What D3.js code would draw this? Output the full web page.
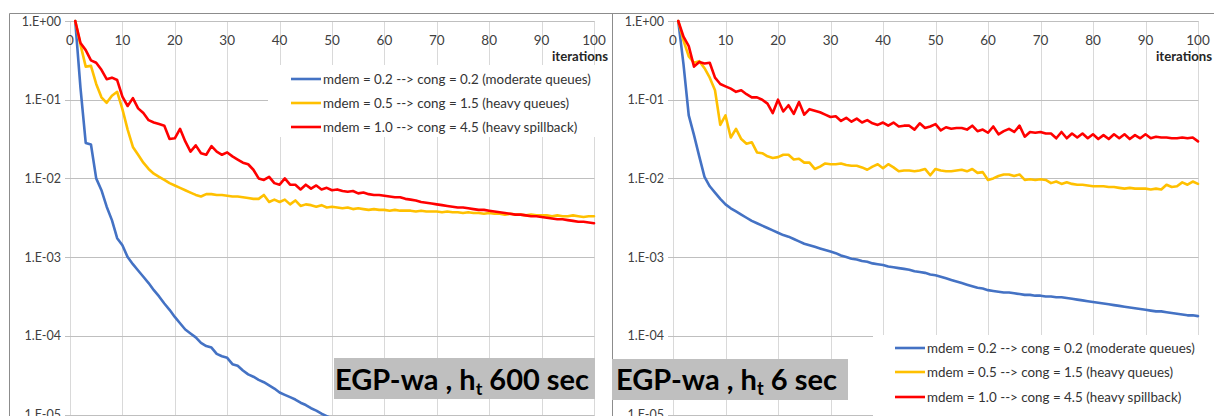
<!DOCTYPE html>
<html>
<head>
<meta charset="utf-8">
<script src="https://cdn.jsdelivr.net/npm/d3@7"></script>
<style>
  html, body { margin: 0; padding: 0; background: #fff; }
  svg { display: block; font-family: Lato, "Open Sans", "Liberation Sans", sans-serif; }
</style>
</head>
<body>
<svg id="chart" width="1214" height="416"></svg>
<script>
// ---- data -------------------------------------------------------------
// Relative gap per iteration, stored as log10 values (1.E-02 -> -2).
const iterations = d3.range(1, 101);
const xTickValues = [0, 10, 20, 30, 40, 50, 60, 70, 80, 90, 100];
const yTickValues = [1, 1e-1, 1e-2, 1e-3, 1e-4, 1e-5];
const yTickLabels = ["1.E+00", "1.E-01", "1.E-02", "1.E-03", "1.E-04", "1.E-05"];
const seriesNames = [
  "mdem = 0.2 --> cong = 0.2 (moderate queues)",
  "mdem = 0.5 --> cong = 1.5 (heavy queues)",
  "mdem = 1.0 --> cong = 4.5 (heavy spillback)"
];
const seriesColors = ["#4472C4", "#FFC000", "#FF0000"];

// h_t = 600 sec
const moderate600 = [0, -0.85, -1.55, -1.57, -2.0, -2.15, -2.36, -2.53, -2.76, -2.85,
  -3.00, -3.09, -3.17, -3.25, -3.33, -3.42, -3.50, -3.59, -3.67, -3.76,
  -3.84, -3.92, -3.97, -4.02, -4.09, -4.13, -4.15, -4.23, -4.26, -4.28,
  -4.36, -4.38, -4.44, -4.49, -4.52, -4.56, -4.59, -4.63, -4.67, -4.72,
  -4.75, -4.78, -4.81, -4.85, -4.88, -4.92, -4.95, -4.99, -5.02, -5.05];
const heavyQueues600 = [0, -0.30, -0.58, -0.57, -0.80, -0.97, -1.04, -0.95, -0.90, -1.12,
  -1.38, -1.60, -1.70, -1.80, -1.88, -1.94, -1.98, -2.02, -2.06, -2.09,
  -2.12, -2.15, -2.18, -2.21, -2.23, -2.20, -2.20, -2.21, -2.21, -2.22,
  -2.23, -2.23, -2.24, -2.25, -2.26, -2.26, -2.21, -2.30, -2.27, -2.30,
  -2.27, -2.33, -2.28, -2.35, -2.33, -2.34, -2.36, -2.34, -2.37, -2.36,
  -2.37, -2.38, -2.37, -2.39, -2.38, -2.39, -2.40, -2.39, -2.40, -2.40,
  -2.41, -2.40, -2.41, -2.41, -2.41, -2.42, -2.41, -2.42, -2.42, -2.42,
  -2.43, -2.42, -2.43, -2.43, -2.44, -2.43, -2.44, -2.44, -2.45, -2.44,
  -2.45, -2.45, -2.46, -2.45, -2.46, -2.46, -2.47, -2.46, -2.47, -2.47,
  -2.47, -2.48, -2.47, -2.48, -2.48, -2.47, -2.48, -2.49, -2.48, -2.48];
const spillback600 = [0, -0.28, -0.37, -0.50, -0.53, -0.62, -0.74, -0.72, -0.75, -0.96,
  -1.08, -0.98, -1.11, -1.17, -1.26, -1.29, -1.31, -1.33, -1.50, -1.49,
  -1.37, -1.53, -1.66, -1.58, -1.68, -1.70, -1.59, -1.66, -1.70, -1.67,
  -1.72, -1.76, -1.80, -1.82, -1.89, -2.00, -2.02, -1.98, -2.06, -2.08,
  -2.00, -2.08, -2.08, -2.14, -2.08, -2.13, -2.09, -2.14, -2.12, -2.15,
  -2.14, -2.16, -2.17, -2.16, -2.19, -2.18, -2.20, -2.21, -2.21, -2.22,
  -2.23, -2.24, -2.24, -2.26, -2.27, -2.28, -2.30, -2.31, -2.32, -2.33,
  -2.34, -2.35, -2.36, -2.37, -2.37, -2.38, -2.39, -2.40, -2.40, -2.41,
  -2.42, -2.43, -2.44, -2.45, -2.46, -2.46, -2.47, -2.48, -2.48, -2.49,
  -2.50, -2.51, -2.52, -2.52, -2.53, -2.54, -2.55, -2.55, -2.56, -2.57];

// h_t = 6 sec
const moderate6 = [0, -0.55, -1.20, -1.45, -1.72, -1.98, -2.10, -2.18, -2.26, -2.33,
  -2.38, -2.42, -2.46, -2.50, -2.54, -2.57, -2.60, -2.63, -2.66, -2.69,
  -2.72, -2.74, -2.77, -2.80, -2.83, -2.85, -2.87, -2.89, -2.91, -2.93,
  -2.95, -2.98, -3.00, -3.02, -3.03, -3.05, -3.06, -3.08, -3.09, -3.10,
  -3.12, -3.13, -3.14, -3.15, -3.16, -3.18, -3.19, -3.20, -3.22, -3.23,
  -3.25, -3.27, -3.29, -3.31, -3.33, -3.35, -3.37, -3.39, -3.40, -3.42,
  -3.43, -3.44, -3.45, -3.45, -3.46, -3.47, -3.48, -3.48, -3.49, -3.49,
  -3.50, -3.50, -3.51, -3.51, -3.52, -3.53, -3.54, -3.55, -3.56, -3.57,
  -3.58, -3.59, -3.60, -3.61, -3.62, -3.63, -3.64, -3.65, -3.66, -3.67,
  -3.68, -3.69, -3.69, -3.70, -3.71, -3.72, -3.73, -3.74, -3.74, -3.75];
const heavyQueues6 = [0, -0.25, -0.45, -0.53, -0.51, -0.60, -0.72, -0.88, -1.32, -1.20,
  -1.48, -1.37, -1.50, -1.56, -1.54, -1.67, -1.68, -1.72, -1.74, -1.73,
  -1.70, -1.70, -1.76, -1.75, -1.80, -1.80, -1.88, -1.85, -1.81, -1.82,
  -1.82, -1.81, -1.83, -1.84, -1.84, -1.86, -1.89, -1.85, -1.82, -1.87,
  -1.82, -1.86, -1.91, -1.90, -1.90, -1.91, -1.90, -1.88, -1.96, -1.88,
  -1.90, -1.91, -1.91, -1.90, -1.89, -1.91, -1.88, -1.93, -1.92, -2.02,
  -2.00, -1.97, -1.95, -1.95, -1.97, -1.95, -2.02, -2.01, -2.02, -2.01,
  -2.02, -2.06, -2.04, -2.07, -2.05, -2.07, -2.08, -2.08, -2.09, -2.10,
  -2.10, -2.10, -2.11, -2.11, -2.12, -2.13, -2.12, -2.13, -2.13, -2.13,
  -2.14, -2.13, -2.14, -2.08, -2.11, -2.10, -2.05, -2.08, -2.04, -2.07];
const spillback6 = [0, -0.20, -0.32, -0.58, -0.52, -0.54, -0.53, -0.72, -0.80, -0.83,
  -0.86, -0.90, -0.88, -0.93, -0.97, -0.97, -1.00, -1.05, -1.17, -1.00,
  -1.15, -1.07, -1.18, -1.03, -1.19, -1.12, -1.14, -1.16, -1.19, -1.22,
  -1.21, -1.27, -1.23, -1.28, -1.24, -1.29, -1.26, -1.30, -1.32, -1.29,
  -1.33, -1.29, -1.34, -1.33, -1.33, -1.38, -1.30, -1.36, -1.34, -1.31,
  -1.39, -1.35, -1.37, -1.36, -1.36, -1.38, -1.33, -1.40, -1.38, -1.42,
  -1.34, -1.44, -1.40, -1.37, -1.41, -1.33, -1.47, -1.41, -1.42, -1.41,
  -1.43, -1.43, -1.49, -1.41, -1.49, -1.43, -1.48, -1.43, -1.49, -1.44,
  -1.50, -1.45, -1.50, -1.44, -1.49, -1.44, -1.50, -1.45, -1.49, -1.44,
  -1.49, -1.47, -1.48, -1.48, -1.49, -1.49, -1.48, -1.49, -1.48, -1.53];

// ---- layout -----------------------------------------------------------
const svg = d3.select("#chart");
const W = 1214, H = 416;
const gridMajor = "#bfbfbf", gridMinor = "#d9d9d9", frame = "#8c8c8c";
const tickColor = "#404040";

const panels = [
  {
    left: 70, right: 594, series: [moderate600, heavyQueues600, spillback600],
    legend: { x0: 268, y0: 65, x1: 606, y1: 137, lineX: 291, rowY: [79, 103, 127] },
    title: { x0: 334, y0: 358, x1: 595, y1: 399, textX: 335, width: 254, main: " 600 sec" }
  },
  {
    left: 673, right: 1198, series: [moderate6, heavyQueues6, spillback6],
    legend: { x0: 873, y0: 335, x1: 1206, y1: 416, lineX: 895, rowY: [348, 372, 397] },
    title: { x0: 612, y0: 359, x1: 848, y1: 400, textX: 616, width: 221, main: " 6 sec" }
  }
];

// outer frames of the two chart objects
svg.append("path")
  .attr("d", `M9.5,${H} V13.5 H${W} M612.5,13.5 V${H}`)
  .attr("fill", "none").attr("stroke", frame).attr("stroke-width", 1);

const px = v => Math.round(v) + 0.5;

function fitFont(sel, target) {
  const n = sel.node();
  const w = n.getComputedTextLength();
  const fs = parseFloat(sel.attr("font-size"));
  sel.attr("font-size", (fs * target / w).toFixed(2));
}

panels.forEach(p => {
  const x = d3.scaleLinear().domain([0, 100]).range([p.left, p.right]);
  const y = d3.scaleLog().domain([1, 1e-5]).range([21, 414.5]);
  const g = svg.append("g");

  // vertical gridlines (including the value axis at 0)
  g.append("g").selectAll("line").data(xTickValues).join("line")
    .attr("x1", d => px(x(d))).attr("x2", d => px(x(d)))
    .attr("y1", y(1)).attr("y2", H)
    .attr("stroke", gridMinor).attr("stroke-width", 1);

  // horizontal decade gridlines with short ticks on the left
  g.append("g").selectAll("line").data(yTickValues).join("line")
    .attr("x1", p.left - 5).attr("x2", px(x(100)))
    .attr("y1", d => px(y(d))).attr("y2", d => px(y(d)))
    .attr("stroke", gridMajor).attr("stroke-width", 1);

  // category axis labels along the top
  g.append("g").selectAll("text").data(xTickValues).join("text")
    .attr("x", d => x(d)).attr("y", 45)
    .attr("text-anchor", "middle")
    .attr("font-size", 13.5).attr("fill", tickColor)
    .text(d => d);

  const itLabel = g.append("text")
    .attr("x", x(100) + 14).attr("y", 61)
    .attr("text-anchor", "end")
    .attr("font-size", 13).attr("font-weight", "bold").attr("fill", "#262626")
    .text("iterations");
  fitFont(itLabel, 56);

  // log value axis labels
  g.append("g").selectAll("text").data(yTickValues).join("text")
    .attr("x", p.left - 9).attr("y", d => y(d) + 4.5)
    .attr("text-anchor", "end")
    .attr("font-size", 12.5).attr("fill", tickColor)
    .text((d, i) => yTickLabels[i]);

  // legend panel hides the grid underneath it
  const L = p.legend;
  g.append("rect")
    .attr("x", L.x0).attr("y", L.y0)
    .attr("width", L.x1 - L.x0).attr("height", L.y1 - L.y0)
    .attr("fill", "#fff");

  // series lines
  const line = d3.line()
    .x((d, i) => x(iterations[i]))
    .y(d => y(Math.pow(10, d)));
  p.series.forEach((s, k) => {
    g.append("path")
      .datum(s)
      .attr("d", line)
      .attr("fill", "none")
      .attr("stroke", seriesColors[k])
      .attr("stroke-width", 2.6)
      .attr("stroke-linejoin", "round")
      .attr("stroke-linecap", "round");
  });

  // legend entries
  const rows = g.append("g").selectAll("g").data(seriesNames).join("g");
  rows.append("line")
    .attr("x1", L.lineX).attr("x2", L.lineX + 30)
    .attr("y1", (d, i) => L.rowY[i]).attr("y2", (d, i) => L.rowY[i])
    .attr("stroke", (d, i) => seriesColors[i]).attr("stroke-width", 2.6);
  const labels = rows.append("text")
    .attr("x", L.lineX + 32).attr("y", (d, i) => L.rowY[i] + 4.5)
    .attr("font-size", 13).attr("fill", "#333")
    .text(d => d);
  // size legend text so the longest entry spans its slot
  const first = d3.select(labels.nodes()[0]);
  fitFont(first, 268);
  labels.attr("font-size", first.attr("font-size"));

  // title badge
  const T = p.title;
  g.append("rect")
    .attr("x", T.x0).attr("y", T.y0)
    .attr("width", T.x1 - T.x0).attr("height", T.y1 - T.y0)
    .attr("fill", "#bfbfbf");
  const title = g.append("text")
    .attr("x", T.textX).attr("y", 390)
    .attr("font-size", 28).attr("font-weight", "bold").attr("fill", "#000");
  title.append("tspan").text("EGP-wa , h");
  title.append("tspan").attr("font-size", "0.62em").attr("dy", 5).text("t");
  title.append("tspan").attr("dy", -5).text(T.main);
  const tw = title.node().getComputedTextLength();
  title.attr("font-size", (28 * T.width / tw).toFixed(2));
});
</script>
</body>
</html>
